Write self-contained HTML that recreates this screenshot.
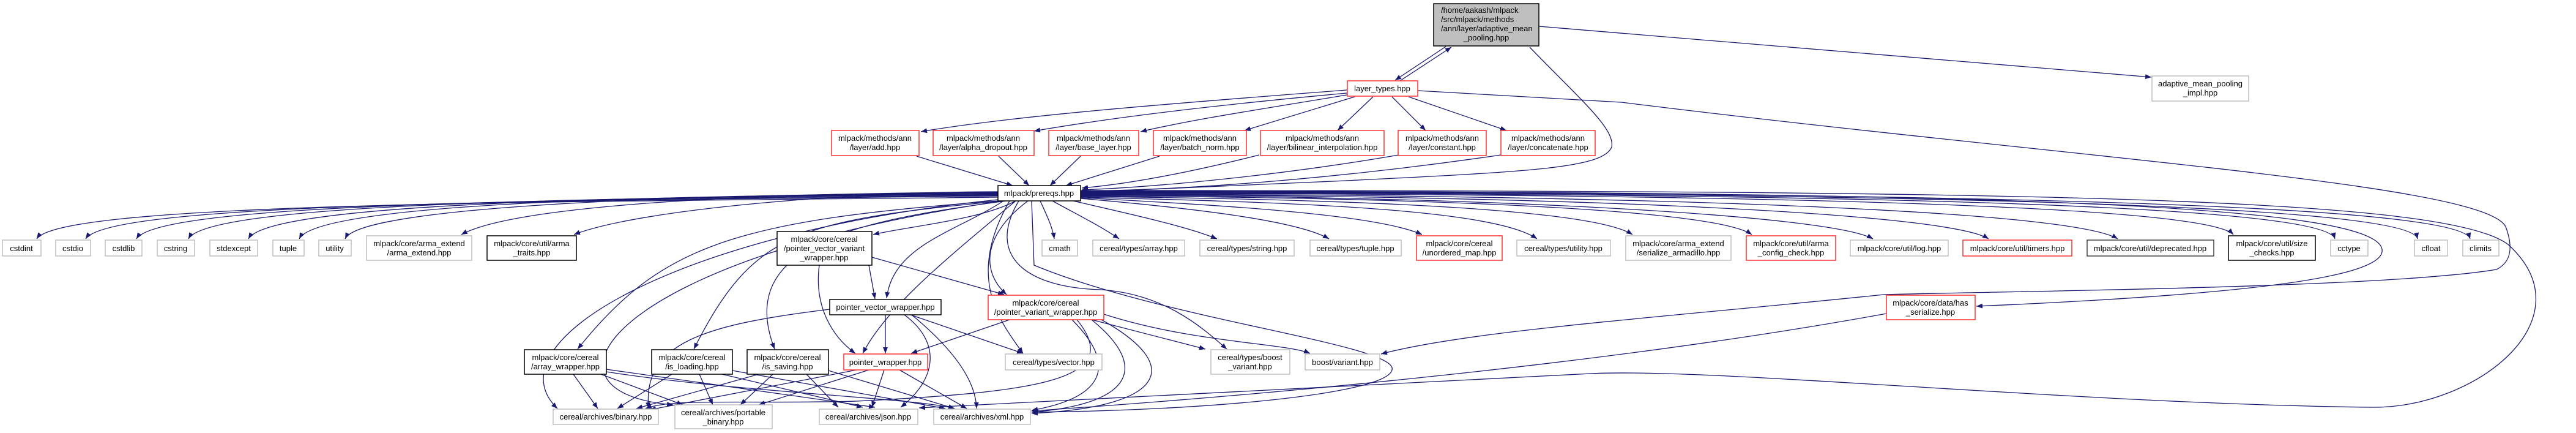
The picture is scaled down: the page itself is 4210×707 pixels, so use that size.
<!DOCTYPE html>
<html><head><meta charset="utf-8">
<style>
html,body{margin:0;padding:0;background:#fff;}
svg{display:block;}
text{font-family:"Liberation Sans",sans-serif;font-size:13px;fill:#000;}
.e{fill:none;stroke:#191970;stroke-width:1.3;marker-end:url(#a);}
.g{fill:#fff;stroke:#bfbfbf;stroke-width:1.5;}
.r{fill:#fff;stroke:#ff3030;stroke-width:1.5;}
.b{fill:#fff;stroke:#000;stroke-width:1.5;}
</style></head><body>
<svg width="4210" height="707" viewBox="0 0 4210 707" xmlns="http://www.w3.org/2000/svg">
<defs><marker id="a" markerUnits="userSpaceOnUse" markerWidth="11" markerHeight="8" refX="10" refY="4" orient="auto"><path d="M0,0 L10,4 L0,8 z" fill="#191970"/></marker></defs>

<!-- edges top -->
<path class="e" d="M2363,76 L2280,131"/>
<path class="e" d="M2288,132 L2372,77"/>
<path class="e" d="M2515,43 L3516,126"/>
<path class="e" d="M2500,77 C2580,160 2640,210 2634,240 C2620,275 2500,280 2200,295 C2000,305 1850,310 1768,314"/>
<path class="e" d="M2317,148 L2650,167 C3400,260 4060,300 4095,370 C4110,410 4100,430 4080,440 C3900,470 3300,475 3079,481 C2700,520 2400,540 2257,578"/>
<!-- layer_types to red -->
<path class="e" d="M2201,147 C1900,170 1650,190 1505,215"/>
<path class="e" d="M2201,152 C1950,175 1800,195 1690,214"/>
<path class="e" d="M2201,155 C2050,180 1950,195 1864,215"/>
<path class="e" d="M2214,158 L2034,213"/>
<path class="e" d="M2244,158 L2186,213"/>
<path class="e" d="M2275,158 L2330,213"/>
<path class="e" d="M2302,158 L2462,213"/>
<!-- red to prereqs -->
<path class="e" d="M1498,255 L1655,303"/>
<path class="e" d="M1632,255 L1682,303"/>
<path class="e" d="M1766,255 L1716,303"/>
<path class="e" d="M1895,255 L1742,303"/>
<path class="e" d="M2058,253 C1950,280 1850,300 1768,307"/>
<path class="e" d="M2286,253 C2100,285 1900,305 1768,310"/>
<path class="e" d="M2453,253 C2200,290 1950,310 1768,312"/>

<!-- prereqs to row A left -->
<path class="e" d="M1631,322 C900,330 100,330 60,390"/>
<path class="e" d="M1631,320 C900,328 180,330 140,390"/>
<path class="e" d="M1631,319 C950,325 260,330 223,390"/>
<path class="e" d="M1631,318 C1000,322 340,330 308,390"/>
<path class="e" d="M1631,317 C1050,320 440,330 406,390"/>
<path class="e" d="M1631,316 C1100,318 520,330 489,390"/>
<path class="e" d="M1631,315 C1150,316 590,335 564,390"/>
<path class="e" d="M1631,314 C1300,314 850,330 754,383"/>
<path class="e" d="M1631,313 C1400,313 1050,340 938,383"/>
<path class="e" d="M1660,328 C1600,360 1480,370 1427,383"/>
<!-- right -->
<path class="e" d="M1700,328 C1710,350 1720,370 1723,390"/>
<path class="e" d="M1720,328 C1760,350 1800,370 1829,390"/>
<path class="e" d="M1745,326 C1850,350 1940,370 1989,390"/>
<path class="e" d="M1766,324 C1950,340 2120,360 2172,390"/>
<path class="e" d="M1766,323 C2000,335 2250,350 2324,383"/>
<path class="e" d="M1766,322 C2100,330 2440,340 2512,390"/>
<path class="e" d="M1766,321 C2200,325 2600,340 2668,383"/>
<path class="e" d="M1766,320 C2300,322 2800,340 2863,383"/>
<path class="e" d="M1766,319 C2400,319 2990,350 3061,390"/>
<path class="e" d="M1766,318 C2500,318 3180,345 3250,390"/>
<path class="e" d="M1766,317 C2600,317 3380,340 3461,390"/>
<path class="e" d="M1766,316 C2700,316 3600,330 3650,383"/>
<path class="e" d="M1766,315 C2900,315 3800,330 3816,390"/>
<path class="e" d="M1766,314 C3000,314 3940,330 3951,390"/>
<path class="e" d="M1766,313 C3100,313 4020,330 4037,390"/>
<path class="e" d="M1766,312 C3200,312 3880,330 3893,407 C3900,450 3700,480 3230,500"/>
<path class="e" d="M1766,311 C3300,311 4000,320 4100,400 C4230,520 4050,665 3879,665 C3400,660 2800,600 2600,610 C2200,630 1800,650 1502,666"/>

<!-- prereqs to lower -->
<path class="e" d="M1640,328 C1560,380 1460,400 1449,487"/>
<path class="e" d="M1680,328 C1610,380 1600,440 1645,481"/>
<path class="e" d="M1660,328 C1550,420 1450,500 1410,577"/>
<path class="e" d="M1631,328 C1200,360 1080,400 944,570"/>
<path class="e" d="M1640,328 C1300,360 1230,380 1134,570"/>
<path class="e" d="M1645,328 C1400,360 1200,400 1266,570"/>
<path class="e" d="M1631,326 C1100,380 800,560 911,667"/>
<path class="e" d="M1640,328 C1000,420 850,640 1100,661"/>
<path class="e" d="M1650,328 C1580,450 1630,520 1672,577"/>
<path class="e" d="M1665,328 C1610,420 1680,470 1800,473 C1900,480 1960,530 2005,570"/>
<path class="e" d="M1686,328 L1690,433 C1900,520 2260,560 2275,600 C2285,640 2000,670 1686,673"/>

<!-- pvvw -->
<path class="e" d="M1420,433 L1430,488"/>
<path class="e" d="M1425,420 L1641,481"/>
<path class="e" d="M1339,433 C1330,500 1360,550 1398,577"/>
<!-- pvw -->
<path class="e" d="M1447,514 L1447,577"/>
<path class="e" d="M1488,514 L1672,577"/>
<path class="e" d="M1478,514 C1540,560 1530,620 1472,665"/>
<path class="e" d="M1490,514 C1570,580 1595,630 1596,667"/>
<path class="e" d="M1356,505 C1150,530 1050,560 1060,667"/>
<!-- pointer_variant -->
<path class="e" d="M1650,522 L1489,577"/>
<path class="e" d="M1784,522 L1970,570"/>
<path class="e" d="M1804,513 C1950,560 2100,560 2141,577"/>
<path class="e" d="M1752,522 C1830,600 1800,650 1686,670"/>
<path class="e" d="M1784,522 C1880,600 1850,660 1686,673"/>
<path class="e" d="M1800,522 C1940,600 1900,665 1686,675"/>
<path class="e" d="M1760,522 C1840,620 1700,640 1400,655 C1200,660 1100,650 1055,667"/>
<!-- pointer_wrapper -->
<path class="e" d="M1400,604 L1062,669"/>
<path class="e" d="M1420,604 L1240,661"/>
<path class="e" d="M1445,604 L1425,665"/>
<path class="e" d="M1470,604 L1580,667"/>
<!-- array_wrapper -->
<path class="e" d="M937,611 L977,667"/>
<path class="e" d="M982,611 L1116,661"/>
<path class="e" d="M991,603 L1430,665"/>
<path class="e" d="M991,607 C1200,640 1500,650 1560,667"/>
<!-- is_loading -->
<path class="e" d="M1098,611 L1009,667"/>
<path class="e" d="M1143,611 L1165,661"/>
<path class="e" d="M1180,611 L1410,665"/>
<path class="e" d="M1197,605 L1545,667"/>
<!-- is_saving -->
<path class="e" d="M1240,611 L1040,667"/>
<path class="e" d="M1263,611 L1210,661"/>
<path class="e" d="M1318,611 L1370,665"/>
<path class="e" d="M1354,605 L1560,667"/>
<!-- has_serialize -->
<path class="e" d="M3083,512 C2600,600 2000,650 1686,671"/>

<!-- nodes -->
<rect x="2343" y="6" width="172" height="69" fill="#bfbfbf" stroke="#000" stroke-width="1.5"/>
<text x="2355" y="21">/home/aakash/mlpack</text>
<text x="2355" y="36">/src/mlpack/methods</text>
<text x="2355" y="51">/ann/layer/adaptive_mean</text>
<text x="2429" y="66" text-anchor="middle">_pooling.hpp</text>

<rect class="r" x="2202" y="132" width="115" height="25"/>
<text x="2259" y="149" text-anchor="middle">layer_types.hpp</text>

<rect class="g" x="3517" y="124" width="158" height="41"/>
<text x="3596" y="141" text-anchor="middle">adaptive_mean_pooling</text>
<text x="3596" y="156" text-anchor="middle">_impl.hpp</text>

<g text-anchor="middle">
<rect class="r" x="1359" y="213" width="143" height="41"/><text x="1430" y="230">mlpack/methods/ann</text><text x="1430" y="245">/layer/add.hpp</text>
<rect class="r" x="1525" y="213" width="165" height="41"/><text x="1607" y="230">mlpack/methods/ann</text><text x="1607" y="245">/layer/alpha_dropout.hpp</text>
<rect class="r" x="1714" y="213" width="147" height="41"/><text x="1787" y="230">mlpack/methods/ann</text><text x="1787" y="245">/layer/base_layer.hpp</text>
<rect class="r" x="1885" y="213" width="152" height="41"/><text x="1961" y="230">mlpack/methods/ann</text><text x="1961" y="245">/layer/batch_norm.hpp</text>
<rect class="r" x="2060" y="213" width="202" height="41"/><text x="2161" y="230">mlpack/methods/ann</text><text x="2161" y="245">/layer/bilinear_interpolation.hpp</text>
<rect class="r" x="2285" y="213" width="144" height="41"/><text x="2357" y="230">mlpack/methods/ann</text><text x="2357" y="245">/layer/constant.hpp</text>
<rect class="r" x="2453" y="213" width="154" height="41"/><text x="2530" y="230">mlpack/methods/ann</text><text x="2530" y="245">/layer/concatenate.hpp</text>

<rect class="b" x="1631" y="303" width="135" height="25"/><text x="1698" y="320">mlpack/prereqs.hpp</text>

<rect class="g" x="4" y="392" width="63" height="26"/><text x="35" y="410">cstdint</text>
<rect class="g" x="91" y="392" width="57" height="26"/><text x="119" y="410">cstdio</text>
<rect class="g" x="172" y="392" width="60" height="26"/><text x="202" y="410">cstdlib</text>
<rect class="g" x="257" y="392" width="61" height="26"/><text x="287" y="410">cstring</text>
<rect class="g" x="343" y="392" width="78" height="26"/><text x="382" y="410">stdexcept</text>
<rect class="g" x="446" y="392" width="51" height="26"/><text x="471" y="410">tuple</text>
<rect class="g" x="521" y="392" width="53" height="26"/><text x="547" y="410">utility</text>
<rect class="g" x="599" y="385" width="172" height="40"/><text x="685" y="402">mlpack/core/arma_extend</text><text x="685" y="417">/arma_extend.hpp</text>
<rect class="b" x="796" y="385" width="146" height="40"/><text x="869" y="402">mlpack/core/util/arma</text><text x="869" y="417">_traits.hpp</text>
<rect class="b" x="1270" y="378" width="155" height="55"/><text x="1347" y="395">mlpack/core/cereal</text><text x="1347" y="410">/pointer_vector_variant</text><text x="1347" y="425">_wrapper.hpp</text>
<rect class="g" x="1703" y="392" width="58" height="26"/><text x="1732" y="410">cmath</text>
<rect class="g" x="1786" y="392" width="150" height="26"/><text x="1861" y="410">cereal/types/array.hpp</text>
<rect class="g" x="1961" y="392" width="154" height="26"/><text x="2038" y="410">cereal/types/string.hpp</text>
<rect class="g" x="2141" y="392" width="149" height="26"/><text x="2215" y="410">cereal/types/tuple.hpp</text>
<rect class="r" x="2315" y="385" width="140" height="40"/><text x="2385" y="402">mlpack/core/cereal</text><text x="2385" y="417">/unordered_map.hpp</text>
<rect class="g" x="2479" y="392" width="153" height="26"/><text x="2555" y="410">cereal/types/utility.hpp</text>
<rect class="g" x="2657" y="385" width="172" height="40"/><text x="2743" y="402">mlpack/core/arma_extend</text><text x="2743" y="417">/serialize_armadillo.hpp</text>
<rect class="r" x="2854" y="385" width="146" height="40"/><text x="2927" y="402">mlpack/core/util/arma</text><text x="2927" y="417">_config_check.hpp</text>
<rect class="g" x="3024" y="392" width="160" height="26"/><text x="3104" y="410">mlpack/core/util/log.hpp</text>
<rect class="r" x="3208" y="392" width="178" height="26"/><text x="3297" y="410">mlpack/core/util/timers.hpp</text>
<rect x="3411" y="392" width="207" height="26" fill="#fff" stroke="#404040" stroke-width="1.5"/><text x="3514" y="410">mlpack/core/util/deprecated.hpp</text>
<rect class="b" x="3642" y="385" width="142" height="40"/><text x="3713" y="402">mlpack/core/util/size</text><text x="3713" y="417">_checks.hpp</text>
<rect class="g" x="3809" y="392" width="61" height="26"/><text x="3839" y="410">cctype</text>
<rect class="g" x="3946" y="392" width="54" height="26"/><text x="3973" y="410">cfloat</text>
<rect class="g" x="4025" y="392" width="59" height="26"/><text x="4054" y="410">climits</text>

<rect class="b" x="1356" y="489" width="182" height="25"/><text x="1447" y="506">pointer_vector_wrapper.hpp</text>
<rect class="r" x="1615" y="482" width="189" height="40"/><text x="1709" y="499">mlpack/core/cereal</text><text x="1709" y="514">/pointer_variant_wrapper.hpp</text>
<rect class="r" x="3083" y="482" width="145" height="40"/><text x="3155" y="499">mlpack/core/data/has</text><text x="3155" y="514">_serialize.hpp</text>

<rect class="b" x="857" y="571" width="134" height="40"/><text x="924" y="588">mlpack/core/cereal</text><text x="924" y="603">/array_wrapper.hpp</text>
<rect class="b" x="1065" y="571" width="132" height="40"/><text x="1131" y="588">mlpack/core/cereal</text><text x="1131" y="603">/is_loading.hpp</text>
<rect class="b" x="1221" y="571" width="133" height="40"/><text x="1287" y="588">mlpack/core/cereal</text><text x="1287" y="603">/is_saving.hpp</text>
<rect class="r" x="1379" y="578" width="137" height="26"/><text x="1447" y="596">pointer_wrapper.hpp</text>
<rect class="g" x="1643" y="578" width="158" height="26"/><text x="1722" y="596">cereal/types/vector.hpp</text>
<rect class="g" x="1979" y="571" width="129" height="40"/><text x="2043" y="588">cereal/types/boost</text><text x="2043" y="603">_variant.hpp</text>
<rect class="g" x="2133" y="578" width="122" height="26"/><text x="2194" y="596">boost/variant.hpp</text>

<rect class="g" x="904" y="668" width="172" height="25"/><text x="990" y="685">cereal/archives/binary.hpp</text>
<rect class="g" x="1103" y="661" width="159" height="39"/><text x="1182" y="678">cereal/archives/portable</text><text x="1182" y="693">_binary.hpp</text>
<rect class="g" x="1339" y="668" width="161" height="25"/><text x="1419" y="685">cereal/archives/json.hpp</text>
<rect class="g" x="1526" y="668" width="158" height="25"/><text x="1605" y="685">cereal/archives/xml.hpp</text>
</g>
</svg>
</body></html>
